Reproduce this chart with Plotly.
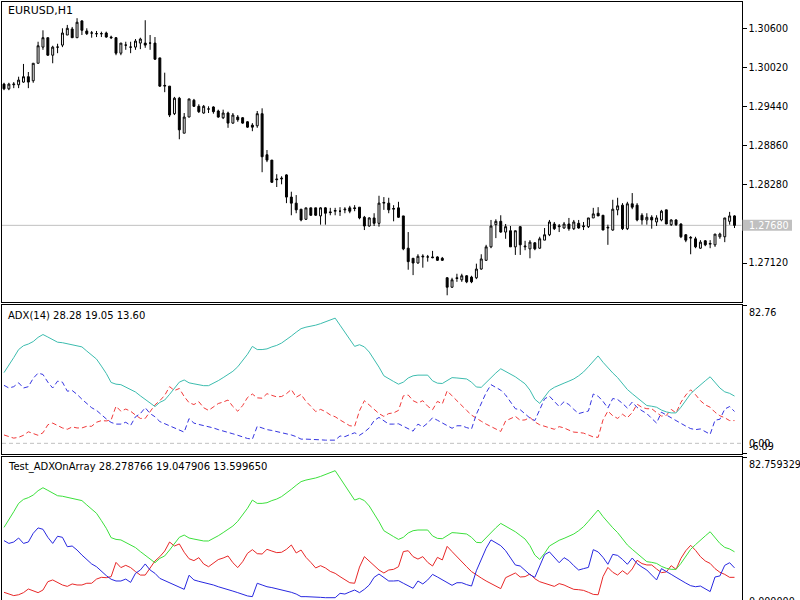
import plotly.graph_objects as go

# ---------------- data (EURUSD H1) ----------------
open_ = [
    1.2978, 1.2971, 1.2977, 1.2977, 1.2981, 1.2989, 1.2983, 1.3009, 1.3033, 1.3047,
    1.3021, 1.3033, 1.3036, 1.3051, 1.3060, 1.3047, 1.3072, 1.3057, 1.3054, 1.3053,
    1.3053, 1.3054, 1.3048, 1.3047, 1.3024, 1.3036, 1.3033, 1.3033, 1.3039, 1.3039,
    1.3039, 1.3039, 1.3017, 1.2975, 1.2975, 1.2934, 1.2957, 1.2905, 1.2929, 1.2954,
    1.2945, 1.2935, 1.2941, 1.2944, 1.2938, 1.2928, 1.2935, 1.2920, 1.2929, 1.2928,
    1.2922, 1.2917, 1.2916, 1.2934, 1.2873, 1.2865, 1.2837, 1.2837, 1.2843, 1.2810,
    1.2801, 1.2792, 1.2777, 1.2794, 1.2794, 1.2782, 1.2794, 1.2788, 1.2789, 1.2789,
    1.2791, 1.2794, 1.2794, 1.2795, 1.2780, 1.2767, 1.2779, 1.2771, 1.2801, 1.2801,
    1.2792, 1.2794, 1.2782, 1.2734, 1.2719, 1.2712, 1.2721, 1.2721, 1.2721, 1.2721,
    1.2719, 1.2690, 1.2676, 1.2690, 1.2687, 1.2693, 1.2691, 1.2690, 1.2703, 1.2716,
    1.2736, 1.2769, 1.2774, 1.2758, 1.2760, 1.2736, 1.2766, 1.2736, 1.2733, 1.2742,
    1.2734, 1.2746, 1.2754, 1.2770, 1.2766, 1.2764, 1.2770, 1.2763, 1.2771, 1.2766,
    1.2766, 1.2779, 1.2786, 1.2783, 1.2764, 1.2761, 1.2791, 1.2798, 1.2763, 1.2800,
    1.2798, 1.2783, 1.2776, 1.2780, 1.2773, 1.2776, 1.2791, 1.2769, 1.2776, 1.2770,
    1.2754, 1.2749, 1.2748, 1.2734, 1.2745, 1.2740, 1.2739, 1.2751, 1.2751, 1.2774,
    1.2782]
high_ = [
    1.2980, 1.2980, 1.2981, 1.2989, 1.3008, 1.2996, 1.3009, 1.3041, 1.3058, 1.3047,
    1.3035, 1.3038, 1.3061, 1.3066, 1.3063, 1.3076, 1.3073, 1.3061, 1.3057, 1.3057,
    1.3056, 1.3056, 1.3050, 1.3048, 1.3039, 1.3041, 1.3041, 1.3045, 1.3047, 1.3073,
    1.3051, 1.3048, 1.3017, 1.2995, 1.2975, 1.2959, 1.2959, 1.2935, 1.2956, 1.2956,
    1.2948, 1.2947, 1.2945, 1.2945, 1.2940, 1.2940, 1.2937, 1.2935, 1.2932, 1.2929,
    1.2923, 1.2920, 1.2938, 1.2942, 1.2880, 1.2865, 1.2844, 1.2841, 1.2844, 1.2818,
    1.2813, 1.2792, 1.2794, 1.2794, 1.2794, 1.2795, 1.2795, 1.2794, 1.2794, 1.2795,
    1.2795, 1.2797, 1.2798, 1.2795, 1.2782, 1.2780, 1.2786, 1.2812, 1.2810, 1.2809,
    1.2798, 1.2803, 1.2782, 1.2758, 1.2719, 1.2725, 1.2725, 1.2724, 1.2730, 1.2722,
    1.2721, 1.2691, 1.2690, 1.2696, 1.2696, 1.2694, 1.2693, 1.2711, 1.2725, 1.2739,
    1.2776, 1.2777, 1.2783, 1.2770, 1.2767, 1.2760, 1.2767, 1.2745, 1.2746, 1.2743,
    1.2751, 1.2764, 1.2776, 1.2773, 1.2770, 1.2773, 1.2779, 1.2776, 1.2776, 1.2773,
    1.2779, 1.2794, 1.2795, 1.2783, 1.2769, 1.2806, 1.2809, 1.2801, 1.2803, 1.2816,
    1.2801, 1.2786, 1.2786, 1.2783, 1.2783, 1.2791, 1.2791, 1.2777, 1.2777, 1.2771,
    1.2755, 1.2752, 1.2751, 1.2746, 1.2746, 1.2746, 1.2755, 1.2757, 1.2779, 1.2788,
    1.2783]
low_ = [
    1.2969, 1.2969, 1.2972, 1.2972, 1.2980, 1.2972, 1.2980, 1.3009, 1.3029, 1.3020,
    1.3009, 1.3024, 1.3033, 1.3051, 1.3047, 1.3047, 1.3051, 1.3051, 1.3047, 1.3048,
    1.3048, 1.3047, 1.3045, 1.3021, 1.3021, 1.3029, 1.3024, 1.3029, 1.3030, 1.3032,
    1.3029, 1.3014, 1.2974, 1.2966, 1.2929, 1.2932, 1.2896, 1.2905, 1.2929, 1.2944,
    1.2935, 1.2934, 1.2935, 1.2934, 1.2928, 1.2926, 1.2913, 1.2919, 1.2922, 1.2919,
    1.2913, 1.2908, 1.2913, 1.2847, 1.2862, 1.2831, 1.2825, 1.2829, 1.2801, 1.2783,
    1.2786, 1.2774, 1.2776, 1.2782, 1.2782, 1.2769, 1.2769, 1.2783, 1.2783, 1.2782,
    1.2786, 1.2786, 1.2789, 1.2777, 1.2761, 1.2766, 1.2767, 1.2766, 1.2791, 1.2786,
    1.2774, 1.2779, 1.2731, 1.2702, 1.2694, 1.2711, 1.2705, 1.2714, 1.2719, 1.2715,
    1.2715, 1.2664, 1.2675, 1.2684, 1.2684, 1.2682, 1.2682, 1.2688, 1.2702, 1.2715,
    1.2734, 1.2749, 1.2757, 1.2748, 1.2736, 1.2724, 1.2724, 1.2731, 1.2719, 1.2731,
    1.2733, 1.2746, 1.2752, 1.2761, 1.2758, 1.2763, 1.2760, 1.2761, 1.2763, 1.2761,
    1.2764, 1.2779, 1.2782, 1.2761, 1.2739, 1.2760, 1.2783, 1.2761, 1.2761, 1.2792,
    1.2774, 1.2769, 1.2769, 1.2763, 1.2767, 1.2774, 1.2770, 1.2767, 1.2767, 1.2749,
    1.2743, 1.2725, 1.2734, 1.2733, 1.2737, 1.2734, 1.2736, 1.2748, 1.2743, 1.2769,
    1.2764]
close_ = [
    1.2971, 1.2978, 1.2978, 1.2984, 1.2989, 1.2981, 1.3009, 1.3035, 1.3047, 1.3021,
    1.3033, 1.3033, 1.3054, 1.3061, 1.3047, 1.3070, 1.3058, 1.3053, 1.3054, 1.3053,
    1.3053, 1.3048, 1.3047, 1.3024, 1.3039, 1.3036, 1.3033, 1.3042, 1.3045, 1.3036,
    1.3039, 1.3015, 1.2975, 1.2976, 1.2932, 1.2957, 1.2910, 1.2929, 1.2956, 1.2945,
    1.2937, 1.2945, 1.2941, 1.2937, 1.2929, 1.2935, 1.2920, 1.2932, 1.2925, 1.2920,
    1.2914, 1.2914, 1.2934, 1.2870, 1.2865, 1.2832, 1.2836, 1.2838, 1.2810, 1.2801,
    1.2791, 1.2776, 1.2794, 1.2783, 1.2783, 1.2794, 1.2786, 1.2787, 1.2790, 1.2789,
    1.2792, 1.2789, 1.2793, 1.2779, 1.2767, 1.2779, 1.2771, 1.2801, 1.2802, 1.2791,
    1.2793, 1.2780, 1.2733, 1.2714, 1.2712, 1.2722, 1.2722, 1.2721, 1.2720, 1.2716,
    1.2716, 1.2676, 1.2687, 1.2689, 1.2693, 1.2684, 1.2684, 1.2703, 1.2718, 1.2736,
    1.2767, 1.2774, 1.2758, 1.2766, 1.2736, 1.2760, 1.2739, 1.2737, 1.2743, 1.2733,
    1.2748, 1.2754, 1.2773, 1.2763, 1.2767, 1.2770, 1.2763, 1.2773, 1.2764, 1.2767,
    1.2779, 1.2785, 1.2782, 1.2761, 1.2765, 1.2792, 1.2797, 1.2763, 1.2800, 1.2795,
    1.2776, 1.2776, 1.2780, 1.2776, 1.2779, 1.2789, 1.2770, 1.2776, 1.2769, 1.2751,
    1.2746, 1.2750, 1.2736, 1.2743, 1.2739, 1.2741, 1.2755, 1.2755, 1.2779, 1.2782,
    1.27680]

adx = [
    42.3, 46.6, 51.3, 56.1, 58.4, 59.4, 60.9, 63.4, 65.1, 63.6,
    61.9, 60.5, 60.2, 59.6, 59.0, 58.2, 57.7, 55.2, 52.7, 50.4,
    46.2, 41.8, 36.4, 35.4, 35.1, 33.5, 32.2, 30.7, 28.4, 26.1,
    23.9, 22.0, 24.5, 25.9, 29.3, 33.1, 36.6, 37.9, 36.2, 35.6,
    35.1, 34.5, 34.5, 35.8, 37.5, 39.3, 41.4, 43.1, 45.8, 49.4,
    53.3, 58.0, 56.1, 56.1, 56.5, 57.7, 58.6, 60.0, 61.9, 64.2,
    66.5, 68.6, 69.5, 69.9, 70.7, 71.6, 72.8, 73.9, 74.9, 70.7,
    66.7, 62.3, 58.0, 59.0, 57.7, 54.6, 50.4, 45.6, 40.4, 38.5,
    37.0, 35.4, 36.6, 39.1, 40.4, 40.8, 41.0, 40.8, 37.4, 36.0,
    35.8, 37.7, 39.3, 39.1, 38.9, 38.5, 36.6, 33.7, 33.5, 36.4,
    39.5, 42.1, 44.6, 43.1, 41.6, 39.8, 37.7, 35.6, 31.8, 26.4,
    23.9, 27.4, 31.6, 33.5, 34.9, 36.0, 37.2, 38.5, 40.4, 42.7,
    45.8, 48.9, 52.3, 48.5, 45.0, 42.1, 39.3, 35.4, 32.2, 29.7,
    27.4, 24.9, 22.6, 22.2, 21.6, 19.9, 18.8, 18.2, 18.2, 21.6,
    25.9, 29.7, 32.4, 35.1, 37.4, 39.8, 36.4, 33.1, 30.8, 29.9,
    28.278766]
plus_di = [
    34.7, 33.1, 33.9, 36.2, 33.1, 33.9, 38.9, 42.0, 41.2, 36.6,
    33.1, 37.2, 36.6, 31.2, 31.6, 29.3, 26.4, 23.6, 21.3, 19.7,
    17.0, 14.6, 12.5, 11.5, 11.5, 12.6, 10.7, 15.9, 17.8, 21.3,
    17.8, 15.9, 13.0, 11.7, 10.5, 9.2, 7.9, 6.7, 14.8, 12.1,
    11.3, 10.7, 10.2, 9.2, 8.2, 7.5, 6.5, 5.7, 4.8, 3.8,
    2.9, 2.5, 10.2, 9.2, 8.2, 7.7, 7.1, 6.5, 5.9, 5.0,
    4.0, 2.5, 2.5, 2.5, 2.5, 2.1, 1.9, 1.7, 1.9, 4.4,
    4.0, 5.2, 6.3, 4.8, 6.7, 9.2, 13.6, 15.5, 13.6, 11.5,
    11.5, 11.7, 10.2, 8.6, 7.3, 11.5, 9.8, 12.1, 15.3, 13.8,
    12.3, 10.7, 9.0, 10.5, 10.5, 9.4, 8.6, 17.4, 23.6, 30.3,
    35.1, 33.5, 31.8, 28.9, 24.5, 20.7, 20.1, 17.6, 15.1, 13.6,
    20.1, 26.6, 28.2, 24.9, 22.0, 24.9, 23.2, 20.3, 17.8, 18.6,
    19.3, 29.5, 28.2, 25.1, 21.1, 26.8, 26.2, 23.9, 21.1, 24.7,
    21.5, 19.5, 17.8, 14.9, 12.1, 18.6, 16.7, 15.3, 13.6, 11.7,
    10.3, 8.8, 8.2, 8.6, 6.9, 5.4, 13.8, 14.4, 20.5, 22.0,
    19.047906]
minus_di = [
    5.0, 4.0, 3.1, 3.6, 4.8, 6.9, 5.9, 4.8, 6.3, 11.1,
    12.1, 10.5, 9.2, 8.4, 9.8, 9.2, 9.2, 10.2, 10.2, 12.6,
    13.6, 13.4, 14.0, 22.2, 19.2, 20.5, 19.2, 16.9, 14.9, 14.9,
    18.8, 23.0, 25.5, 28.7, 33.9, 31.6, 32.8, 28.0, 24.3, 23.2,
    24.9, 21.3, 19.7, 21.6, 23.8, 24.7, 25.9, 22.0, 19.2, 22.6,
    27.4, 29.5, 27.2, 27.0, 29.7, 28.7, 27.8, 28.0, 29.7, 32.2,
    27.6, 29.3, 25.1, 22.2, 19.0, 20.3, 19.0, 17.0, 15.9, 14.0,
    12.3, 10.5, 10.2, 19.5, 25.5, 23.0, 20.3, 17.8, 16.1, 17.8,
    18.2, 19.7, 28.4, 28.9, 25.5, 24.1, 25.5, 22.2, 20.1, 25.1,
    23.6, 31.4, 28.4, 25.3, 22.6, 19.7, 16.9, 14.9, 13.2, 11.5,
    10.0, 8.2, 7.1, 13.4, 14.9, 16.1, 13.8, 14.0, 15.5, 12.8,
    11.1, 10.2, 9.0, 8.4, 10.0, 9.2, 7.9, 6.7, 6.5, 6.1,
    5.0, 3.8, 3.6, 14.0, 19.3, 16.5, 14.9, 17.4, 15.3, 18.4,
    23.4, 21.5, 20.7, 20.7, 18.4, 16.3, 16.7, 20.3, 18.2, 24.5,
    28.9, 32.0, 29.1, 25.5, 23.0, 21.6, 18.6, 16.5, 15.3, 13.6,
    13.599650]

price_ticks = [1.30600, 1.30020, 1.29440, 1.28860, 1.28280, 1.27120]
price_range = [1.26540, 1.31001]
adx_range = [-6.09, 82.76]
arr_max = 82.759329
arr_range = [0.575, arr_max]

# ---------------- layout helpers ----------------
W, H = 800, 600
FONT = "DejaVu Sans"
LBL = 9.6


def py(p):
    return 1 - p / H


X0, X1 = 2.0, 741.5
BAR0, STEP = 4.0, 4.87
bars = list(range(len(close_)))
x_range = [(X0 - BAR0) / STEP, (X1 - BAR0) / STEP]

fig = go.Figure()

fig.add_trace(go.Candlestick(
    x=bars, open=open_, high=high_, low=low_, close=close_,
    increasing=dict(line=dict(color="black", width=1), fillcolor="white"),
    decreasing=dict(line=dict(color="black", width=1), fillcolor="black"),
    whiskerwidth=0, xaxis="x", yaxis="y", showlegend=False, hoverinfo="skip"))

dash = "5px,3px"
fig.add_trace(go.Scatter(x=bars, y=minus_di, mode="lines", xaxis="x2", yaxis="y2",
                         line=dict(color="#F03A3A", width=1, dash=dash)))
fig.add_trace(go.Scatter(x=bars, y=plus_di, mode="lines", xaxis="x2", yaxis="y2",
                         line=dict(color="#3535E0", width=1, dash=dash)))
fig.add_trace(go.Scatter(x=bars, y=adx, mode="lines", xaxis="x2", yaxis="y2",
                         line=dict(color="#3CBCAE", width=1)))

fig.add_trace(go.Scatter(x=bars, y=minus_di, mode="lines", xaxis="x3", yaxis="y3",
                         line=dict(color="#E82828", width=1)))
fig.add_trace(go.Scatter(x=bars, y=plus_di, mode="lines", xaxis="x3", yaxis="y3",
                         line=dict(color="#2828E0", width=1)))
fig.add_trace(go.Scatter(x=bars, y=adx, mode="lines", xaxis="x3", yaxis="y3",
                         line=dict(color="#3CE03C", width=1)))

xdom = [X0 / W, X1 / W]
xcommon = dict(domain=xdom, range=x_range, showticklabels=False, showgrid=False,
               zeroline=False, showline=True, linecolor="black", linewidth=1,
               mirror=True, ticks="", fixedrange=True)
ycommon = dict(side="right", showgrid=False, zeroline=False, showline=True,
               linecolor="black", linewidth=1, mirror=True, ticks="outside",
               ticklen=4, tickcolor="black", tickwidth=1,
               tickfont=dict(family=FONT, size=LBL, color="black"))

fig.update_layout(
    width=W, height=H, margin=dict(l=0, r=0, t=0, b=0),
    paper_bgcolor="white", plot_bgcolor="white", showlegend=False,
    boxgap=0.6, boxgroupgap=0,
    xaxis=dict(**xcommon, anchor="y", rangeslider=dict(visible=False)),
    xaxis2=dict(**xcommon, anchor="y2"),
    xaxis3=dict(**xcommon, anchor="y3"),
    yaxis=dict(**ycommon, anchor="x", domain=[py(302), py(2)], range=price_range,
               tickvals=price_ticks, ticktext=[f"{v:.5f}" for v in price_ticks]),
    yaxis2=dict(**ycommon, anchor="x2", domain=[py(453.5), py(305)], range=adx_range,
                tickvals=adx_range, ticktext=["", ""]),
    yaxis3=dict(**ycommon, anchor="x3", domain=[0, py(457)], range=arr_range,
                tickvals=[arr_max], ticktext=[""]),
)

last = close_[-1]
px_per_price = 300 / (price_range[1] - price_range[0])
half_box = 5.5 / px_per_price

shapes = [
    dict(type="line", xref="paper", yref="y", x0=xdom[0], x1=xdom[1], y0=last, y1=last,
         line=dict(color="#C0C0C0", width=1), layer="below"),
    dict(type="rect", xref="paper", yref="y", x0=742.5 / W, x1=792 / W,
         y0=last - half_box, y1=last + half_box,
         fillcolor="#C0C0C0", line=dict(width=0)),
    dict(type="line", xref="paper", yref="y2", x0=xdom[0], x1=xdom[1], y0=0, y1=0,
         line=dict(color="#C0C0C0", width=1, dash="4px,3px"), layer="below"),
]
fig.update_layout(shapes=shapes)

LX = 746.5 / W
ann = [
    dict(text="EURUSD,H1", x=6 / W, y=py(11), xanchor="left", yanchor="middle",
         font=dict(family=FONT, size=11, color="black")),
    dict(text=f"ADX(14) {adx[-1]:.2f} {plus_di[-1]:.2f} {minus_di[-1]:.2f}",
         x=6 / W, y=py(316), xanchor="left", yanchor="middle",
         font=dict(family=FONT, size=10, color="black")),
    dict(text=f"Test_ADXOnArray {adx[-1]:.6f} {plus_di[-1]:.6f} {minus_di[-1]:.6f}",
         x=6 / W, y=py(467), xanchor="left", yanchor="middle",
         font=dict(family=FONT, size=10, color="black")),
    dict(text=f"{last:.5f}", x=LX, y=last, yref="y", xanchor="left", yanchor="middle",
         font=dict(family=FONT, size=LBL, color="white")),
    dict(text=f"{adx_range[1]:.2f}", x=LX, y=adx_range[1], yref="y2",
         xanchor="left", yanchor="top", font=dict(family=FONT, size=LBL, color="black")),
    dict(text=f"{0:.2f}", x=LX, y=0, yref="y2",
         xanchor="left", yanchor="middle", font=dict(family=FONT, size=LBL, color="black")),
    dict(text=f"{adx_range[0]:.2f}", x=LX, y=adx_range[0], yref="y2",
         xanchor="left", yanchor="bottom", font=dict(family=FONT, size=LBL, color="black")),
    dict(text=f"{arr_max:.6f}", x=LX, y=arr_max, yref="y3",
         xanchor="left", yanchor="top", font=dict(family=FONT, size=LBL, color="black")),
    dict(text=f"{0:.6f}", x=LX, y=py(601), xanchor="left", yanchor="middle",
         font=dict(family=FONT, size=LBL, color="black")),
]
for a in ann:
    a.setdefault("xref", "paper")
    a.setdefault("yref", "paper")
    a["showarrow"] = False
fig.update_layout(annotations=ann)

fig.write_html("out.html")
